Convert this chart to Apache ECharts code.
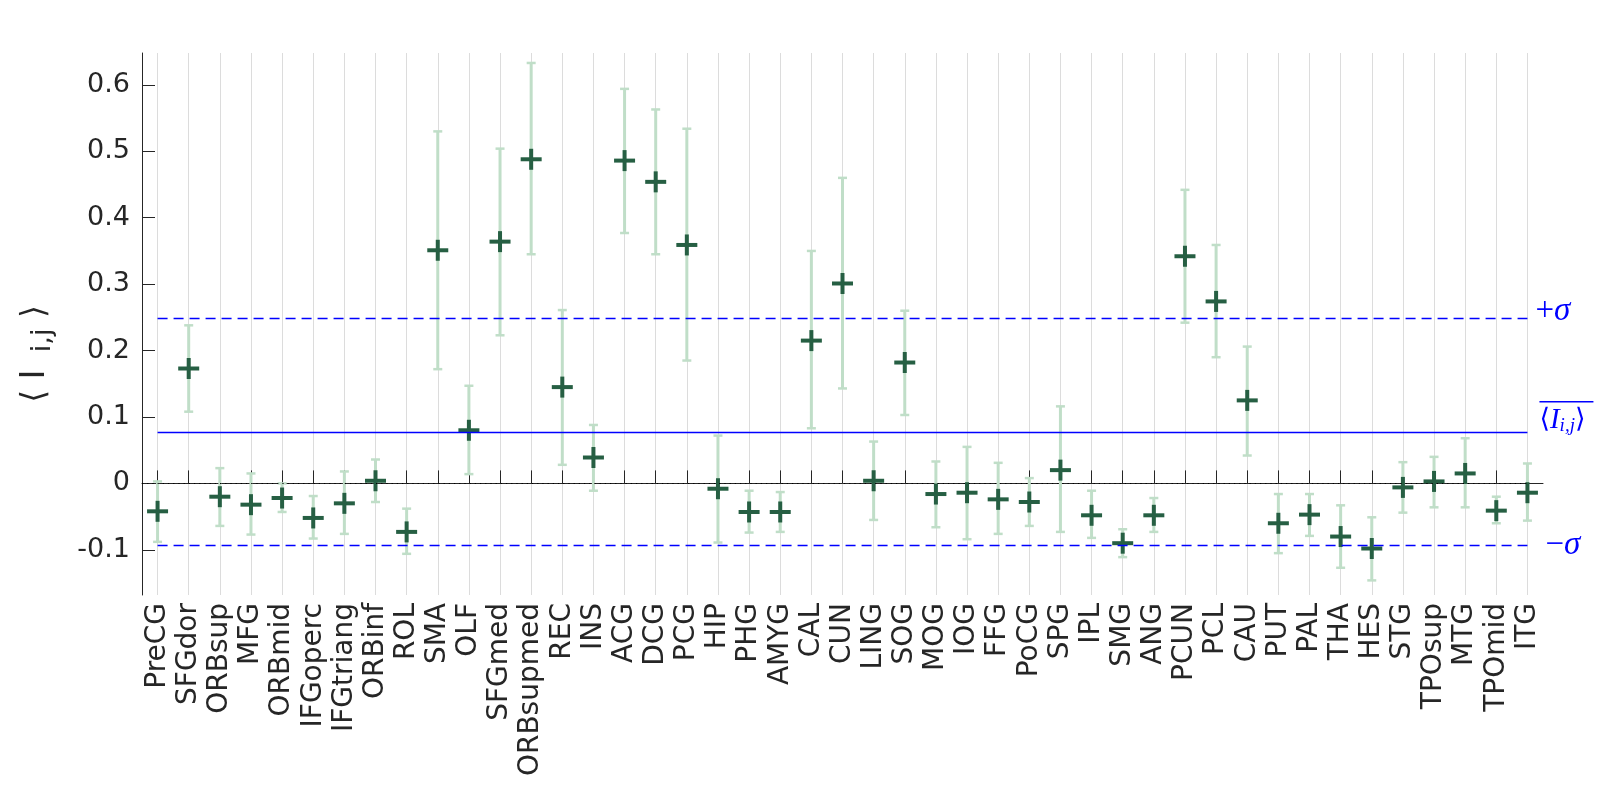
<!DOCTYPE html>
<html><head><meta charset="utf-8">
<script src="https://cdn.jsdelivr.net/npm/echarts@6/dist/echarts.min.js"></script>
<style>html,body{margin:0;padding:0;background:#fff}#c{width:1610px;height:787px}</style>
</head><body><div id="c"></div>
<script>
const categories = ['PreCG','SFGdor','ORBsup','MFG','ORBmid','IFGoperc','IFGtriang','ORBinf','ROL','SMA','OLF','SFGmed','ORBsupmed','REC','INS','ACG','DCG','PCG','HIP','PHG','AMYG','CAL','CUN','LING','SOG','MOG','IOG','FFG','PoCG','SPG','IPL','SMG','ANG','PCUN','PCL','CAU','PUT','PAL','THA','HES','STG','TPOsup','MTG','TPOmid','ITG'];
const means = [-0.042,0.173,-0.020,-0.032,-0.022,-0.052,-0.030,0.004,-0.073,0.351,0.080,0.364,0.488,0.145,0.039,0.486,0.454,0.359,-0.008,-0.043,-0.043,0.215,0.301,0.004,0.182,-0.016,-0.014,-0.024,-0.028,0.020,-0.048,-0.090,-0.048,0.342,0.274,0.125,-0.060,-0.047,-0.080,-0.098,-0.006,0.003,0.015,-0.041,-0.014];
const upper = [0.003,0.238,0.023,0.015,0.000,-0.019,0.018,0.036,-0.038,0.530,0.147,0.504,0.633,0.261,0.088,0.594,0.563,0.534,0.072,-0.011,-0.013,0.350,0.460,0.063,0.260,0.033,0.055,0.031,0.008,0.116,-0.011,-0.069,-0.022,0.442,0.359,0.206,-0.016,-0.016,-0.033,-0.051,0.032,0.040,0.068,-0.020,0.030];
const lower = [-0.088,0.108,-0.064,-0.077,-0.043,-0.083,-0.076,-0.028,-0.106,0.172,0.014,0.223,0.345,0.028,-0.011,0.377,0.345,0.185,-0.089,-0.074,-0.073,0.083,0.143,-0.055,0.103,-0.066,-0.084,-0.076,-0.064,-0.073,-0.082,-0.111,-0.073,0.242,0.190,0.042,-0.105,-0.079,-0.127,-0.146,-0.044,-0.036,-0.036,-0.060,-0.056];
const yTicks = [0.6,0.5,0.4,0.3,0.2,0.1,0,-0.1];
const yTickLabels = ['0.6','0.5','0.4','0.3','0.2','0.1','0','-0.1'];
const refMean = 0.077;
const refPlus = 0.249;
const refMinus = -0.093;
const yMin = -0.168, yMax = 0.648;

const n = categories.length;
const errData = categories.map((c, i) => [i + 1, lower[i], upper[i]]);
const meanData = categories.map((c, i) => [i + 1, means[i]]);
const AX = '#262626';
const BLUE = '#0000ff';
const serif = "'Liberation Serif', 'DejaVu Serif', serif";

const chart = echarts.init(document.getElementById('c'));
chart.setOption({
  animation: false,
  backgroundColor: '#ffffff',
  grid: { left: 142, right: 67, top: 53, bottom: 192, containLabel: false },
  xAxis: [{
    type: 'category', data: categories, boundaryGap: true, position: 'bottom',
    axisLine: { show: true, lineStyle: { color: AX, width: 1 } },
    axisTick: { show: true, inside: true, alignWithLabel: true, interval: 0, length: 13, lineStyle: { color: AX, width: 1 } },
    axisLabel: { rotate: 90, interval: 0, fontSize: 28, color: AX, fontFamily: 'DejaVu Sans', margin: 8 },
    splitLine: { show: true, alignWithLabel: true, interval: 0, lineStyle: { color: '#dcdcdc', width: 1 } }
  }, {
    type: 'value', min: 0.5, max: n + 0.5, show: false
  }],
  yAxis: {
    type: 'value', min: yMin, max: yMax,
    axisLine: { show: true, onZero: false, lineStyle: { color: AX, width: 1 } },
    axisTick: { show: true, inside: true, length: 13, customValues: yTicks, lineStyle: { color: AX, width: 1 } },
    axisLabel: {
      customValues: yTicks, fontSize: 27, color: AX, fontFamily: 'DejaVu Sans', margin: 12,
      formatter: v => { const k = yTicks.findIndex(t => Math.abs(t - v) < 1e-9); return k >= 0 ? yTickLabels[k] : ''; }
    },
    splitLine: { show: false },
    name: '{a|⟨ }{i|I}{s|  i,j}{a| ⟩}',
    nameLocation: 'middle', nameRotate: 90, nameGap: 74,
    nameTextStyle: {
      color: AX, padding: [0, 60, 0, 0],
      rich: {
        a: { fontSize: 33, fontFamily: 'DejaVu Sans', color: AX, padding: [0, 0, 16, 0] },
        i: { fontSize: 34, fontFamily: 'DejaVu Sans', color: AX, padding: [0, 0, 16, 0] },
        s: { fontSize: 27, fontFamily: 'DejaVu Sans', color: AX }
      }
    }
  },
  series: [{
    type: 'custom', xAxisIndex: 1, yAxisIndex: 0, data: errData, silent: true,
    encode: { x: 0, y: [1, 2] },
    renderItem: (params, api) => {
      const x = api.value(0);
      const lo = api.coord([x, api.value(1)]);
      const hi = api.coord([x, api.value(2)]);
      const cw = 4.5, col = '#c0dec8';
      return { type: 'group', children: [
        { type: 'line', shape: { x1: lo[0], y1: lo[1], x2: hi[0], y2: hi[1] }, style: { stroke: col, lineWidth: 3 } },
        { type: 'line', shape: { x1: lo[0] - cw, y1: lo[1], x2: lo[0] + cw, y2: lo[1] }, style: { stroke: col, lineWidth: 2.5 } },
        { type: 'line', shape: { x1: hi[0] - cw, y1: hi[1], x2: hi[0] + cw, y2: hi[1] }, style: { stroke: col, lineWidth: 2.5 } }
      ]};
    },
    markLine: {
      silent: true, symbol: 'none', animation: false,
      data: [
        [{ coord: [0.5, 0], lineStyle: { color: '#000', width: 1, type: [1.2, 4] }, label: { show: false } }, { coord: [n, 0] }],
        [{ coord: [1, refMean], lineStyle: { color: BLUE, width: 1.3, type: 'solid' },
           label: { show: true, position: 'end', distance: 12, formatter: '{ov|}\n{b|⟨}{i|I}{s|i,j}{b|⟩}', padding: [0, 0, 30, 0],
             rich: {
               ov: { width: 54, height: 1.5, backgroundColor: BLUE, lineHeight: 6 },
               b: { fontSize: 27, fontFamily: 'DejaVu Sans', color: BLUE },
               i: { fontSize: 29, fontFamily: serif, fontStyle: 'italic', color: BLUE },
               s: { fontSize: 19, fontFamily: serif, fontStyle: 'italic', color: BLUE, padding: [12, 0, 0, 0] }
             } } }, { coord: [n, refMean] }],
        [{ coord: [1, refPlus], lineStyle: { color: BLUE, width: 1.3, type: [10, 6] },
           label: { show: true, position: 'end', distance: 8, formatter: '{p|+}{g|σ}', padding: [0, 0, 14, 0],
             rich: {
               p: { fontSize: 33, fontFamily: serif, color: BLUE },
               g: { fontSize: 33, fontFamily: serif, fontStyle: 'italic', color: BLUE }
             } } }, { coord: [n, refPlus] }],
        [{ coord: [1, refMinus], lineStyle: { color: BLUE, width: 1.3, type: [10, 6] },
           label: { show: true, position: 'end', distance: 18, formatter: '{p|−}{g|σ}',
             rich: {
               p: { fontSize: 33, fontFamily: serif, color: BLUE },
               g: { fontSize: 33, fontFamily: serif, fontStyle: 'italic', color: BLUE }
             } } }, { coord: [n, refMinus] }]
      ]
    }
  }, {
    type: 'custom', xAxisIndex: 1, yAxisIndex: 0, data: meanData, silent: true,
    encode: { x: 0, y: 1 },
    renderItem: (params, api) => {
      const p = api.coord([api.value(0), api.value(1)]);
      const h = 10.5, col = '#265f43';
      return { type: 'group', children: [
        { type: 'line', shape: { x1: p[0] - h, y1: p[1], x2: p[0] + h, y2: p[1] }, style: { stroke: col, lineWidth: 4 } },
        { type: 'line', shape: { x1: p[0], y1: p[1] - h, x2: p[0], y2: p[1] + h }, style: { stroke: col, lineWidth: 4 } }
      ]};
    }
  }]
});
</script></body></html>
